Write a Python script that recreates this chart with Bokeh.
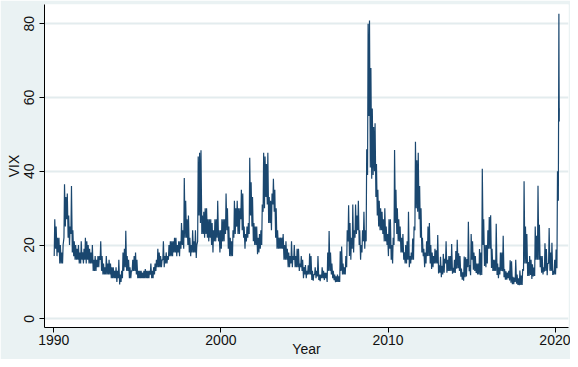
from bokeh.plotting import figure
from bokeh.models import FixedTicker, Range1d, ColumnDataSource
from bokeh.embed import file_html
from bokeh.resources import INLINE

# Monthly low / high of the VIX, Jan 1990 .. Mar 2020
start_year = 1990
vix_low = [
    17, 19, 17, 18, 15, 15, 15, 22, 25, 27, 22, 20,            # 1990
    23, 18, 17, 16, 16, 16, 15, 15, 16, 15, 16, 15,            # 1991
    16, 15, 15, 15, 13, 13, 13, 14, 14, 16, 13, 12,            # 1992
    12, 12, 12, 12, 12, 11, 11, 11, 11, 10, 11, 9.3,           # 1993
    10, 11, 13, 14, 13, 13, 11, 11, 13, 13, 13, 12,            # 1994
    11, 11, 11, 11, 11, 11, 11, 11, 11, 12, 11, 11,            # 1995
    12, 13, 14, 14, 14, 14, 16, 14, 15, 15, 16, 17,            # 1996
    17, 17, 18, 18, 17, 18, 17, 19, 20, 19, 22, 22,            # 1997
    20, 18, 17, 18, 18, 18, 16.5, 21, 28, 26, 23, 23,          # 1998
    22, 23, 22, 21, 22, 20, 18, 21, 21, 22, 21, 18,            # 1999
    19, 21, 21, 23, 24, 19, 17, 17, 17, 22, 23, 25,            # 2000
    23, 23, 27, 24, 22, 19, 21, 22, 23, 28, 25, 21,            # 2001
    20, 20, 17.5, 18, 19, 20, 29, 30, 33, 31, 26, 26,          # 2002
    24, 31, 29, 22, 19, 19, 19, 19, 19, 16, 16, 16,            # 2003
    14, 14, 15, 14, 16, 14, 14, 14, 13, 14, 13, 11,            # 2004
    12, 11, 12, 12, 12, 10.5, 10.3, 12, 11, 11.5, 10.5, 10.2,  # 2005
    11, 11, 10.5, 11, 10, 13, 13, 12, 11, 10.5, 9.9, 10,       # 2006
    10, 10, 13, 12, 12, 12, 14, 21, 17, 16, 19, 18,            # 2007
    22, 23, 24, 20, 16, 18, 21, 19, 21, 39, 55, 41,            # 2008
    38, 39, 40, 33, 28, 25, 24, 24, 23, 21, 21, 20,            # 2009
    17, 19, 16, 15, 20, 26, 23, 21, 21, 18, 18, 16,            # 2010
    15, 15, 16, 14, 15, 16, 16, 24, 30, 29, 27, 22,            # 2011
    18, 17, 14, 15, 17, 17, 15, 13.5, 14, 15, 15, 15,          # 2012
    12.3, 12.5, 11.3, 12, 12.5, 15, 12.5, 13, 13, 13, 12.2, 12.5,  # 2013
    12.4, 13.6, 13.7, 13, 11.4, 10.6, 10.3, 11.3, 11.5, 14, 12.9, 11.8,  # 2014
    16, 13.3, 13, 12.4, 12, 12, 11.8, 11.9, 20, 14.3, 14, 15,  # 2015
    19, 19, 13.8, 13, 13, 13, 11.9, 11, 12, 13, 12.9, 11.3,    # 2016
    10.6, 10.6, 11, 10.4, 9.8, 9.4, 9.4, 10, 9.5, 9.2, 9.1, 9.2,  # 2017
    9.2, 13, 15, 15, 11.6, 11.6, 11.9, 10.8, 11.5, 11.6, 16, 16,  # 2018
    16, 14, 12.5, 12, 12.8, 13, 11.8, 15, 13, 13, 11.9, 12,    # 2019
    12, 13.7, 32,                                              # 2020
]
vix_high = [
    27, 25, 22, 22, 20, 18, 20, 36.5, 33, 34, 28, 25,          # 1990
    36, 24, 21, 20, 19, 20, 18, 21, 18, 19, 22, 21,            # 1991
    20, 19, 18, 20, 16, 17, 16, 17, 17, 21, 17, 15,            # 1992
    14, 17, 15, 16, 15, 14, 14, 13, 14, 13, 16, 12,            # 1993
    13, 18, 19, 23.9, 17, 16, 14, 13, 16, 17, 18, 16,          # 1994
    13, 13, 13, 12.5, 13, 13.5, 13, 13, 13, 15, 13, 14,        # 1995
    15, 16, 19, 18, 17, 16, 21, 17, 18, 17, 20, 21,            # 1996
    21, 21, 22, 22, 20, 21, 21, 26, 24, 38.2, 32, 27,          # 1997
    28, 22, 20, 24, 21, 24, 20, 44, 45, 45.7, 28, 29,          # 1998
    30, 30, 27, 27, 27, 26, 24, 27, 27, 32, 24, 24,            # 1999
    27, 27, 27, 34, 30, 25, 22, 21, 24, 32, 30, 32,            # 2000
    30, 30, 35, 34, 25, 23, 25, 26, 43.7, 37, 33, 26,          # 2001
    25, 25, 22, 23, 24, 31, 45, 44, 42, 45, 33, 32,            # 2002
    34, 38, 35, 30, 24, 22, 22, 22, 23, 20, 21, 19,            # 2003
    18, 17, 21, 17, 20, 17, 19, 19, 15, 17, 16, 14,            # 2004
    14.6, 13, 14.5, 17.7, 17, 13, 12, 14, 13, 17, 12, 12,      # 2005
    14, 13, 12.5, 12.5, 18, 23.8, 18, 15, 13, 12, 11.5, 12,    # 2006
    11.5, 18.3, 19.6, 15, 14, 17, 24, 30.8, 26, 22, 31, 24,    # 2007
    31, 28, 32, 24, 20, 24, 29, 24, 46, 80, 80.9, 68,          # 2008
    57, 52, 53, 42, 35, 32, 30, 29, 27, 30, 25, 23,            # 2009
    27, 27, 20, 22, 45.8, 35, 30, 27, 25, 22, 23, 18,          # 2010
    20, 21, 29, 17, 18, 21.8, 25, 48, 43, 45, 36, 30,          # 2011
    22, 19, 18, 21, 25, 26, 20, 18, 17, 19, 18.6, 22.7,        # 2012
    14.5, 16.8, 14.4, 17.6, 16.3, 21, 16, 17, 17, 20.3, 13.8, 16,  # 2013
    18.4, 21.4, 17.8, 17, 13.6, 12.6, 16.9, 16.7, 16.2, 26.3, 14.6, 23,  # 2014
    21, 18, 17, 15, 15, 18.9, 18, 40.7, 27, 20, 20, 24,        # 2015
    27.6, 28.1, 19, 16, 16, 25.8, 15, 14, 18, 18, 22.5, 13.5,  # 2016
    12.9, 12.5, 13, 15.9, 15.6, 11.4, 11.2, 16, 12, 11, 13.1, 11.7,  # 2017
    13.5, 37.3, 25, 23, 15.4, 17, 16, 14.8, 13.9, 25, 22.5, 36.1,  # 2018
    25.5, 17, 17, 14, 20.5, 18.9, 15, 24.6, 18, 20.6, 13, 16,  # 2019
    18.8, 40, 82.7,                                            # 2020
]
# last few daily closes at the end of the series
tail_years = [2020.235, 2020.246, 2020.249]
tail_values = [65.5, 53.5, 57.1]

year_ticks = [1990, 2000, 2010, 2020]
vix_ticks = [0, 20, 40, 60, 80]

t, v = [], []
for i, (lo, hi) in enumerate(zip(vix_low, vix_high)):
    base = start_year + i / 12.0
    t += [base + 0.3 / 12.0, base + 0.7 / 12.0]
    v += [lo, hi]
t += tail_years
v += tail_values
src = ColumnDataSource(dict(year=t, vix=v))

BG = "#EAF2F3"
FONT = "Liberation Sans"

p = figure(width=570, height=359, output_backend="svg", toolbar_location=None,
           x_range=Range1d(1989.444, 2020.80), y_range=Range1d(-2.36, 85.23),
           min_border_left=44, min_border_right=2, min_border_top=4, min_border_bottom=32)
p.border_fill_color = BG
p.background_fill_color = "white"
p.outline_line_color = None

p.line("year", "vix", source=src, line_color="#1A476F", line_width=1.2)

p.xaxis.ticker = FixedTicker(ticks=year_ticks)
p.yaxis.ticker = FixedTicker(ticks=vix_ticks)
p.yaxis.major_label_orientation = "vertical"
for ax in (p.xaxis, p.yaxis):
    ax.minor_tick_line_color = None
    ax.major_tick_in = 0
    ax.major_tick_out = 5
    ax.axis_line_color = "black"
    ax.major_tick_line_color = "black"
    ax.major_label_text_font = FONT
    ax.major_label_text_font_size = "14px"
    ax.major_label_text_color = "#111111"
    ax.axis_label_text_font = FONT
    ax.axis_label_text_font_size = "14px"
    ax.axis_label_text_font_style = "normal"
    ax.axis_label_text_color = "#111111"
p.xaxis.axis_label = "Year"
p.yaxis.axis_label = "VIX"
p.xaxis.major_label_standoff = 2
p.xaxis.axis_label_standoff = -7
p.yaxis.major_label_standoff = 5
p.yaxis.axis_label_standoff = 0

p.xgrid.visible = False
p.ygrid.grid_line_color = "#E3ECEE"
p.ygrid.grid_line_width = 2

open("out.html", "w").write(file_html(p, INLINE))
